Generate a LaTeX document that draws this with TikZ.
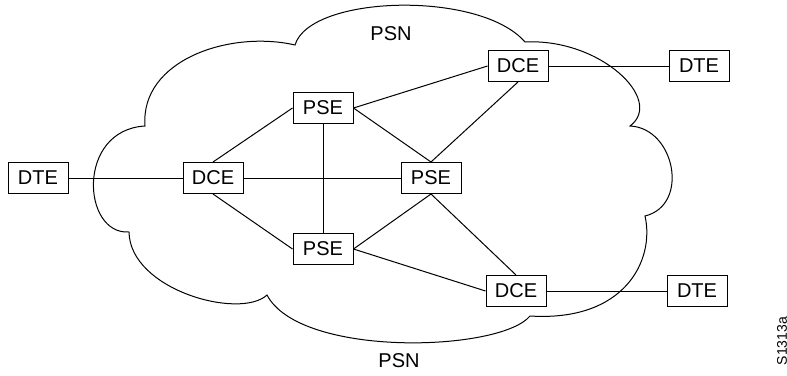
\documentclass[tikz,border=0pt]{standalone}
\usepackage{fontspec}
\setmainfont{Liberation Sans}
\tikzset{
  unit/.style={draw, fill=white, line width=0.5pt, minimum width=30pt, minimum height=15.5pt, inner sep=0pt, font=\fontsize{10}{12}\selectfont},
  link/.style={line width=0.5pt},
  tag/.style={inner sep=0pt, font=\fontsize{10}{12}\selectfont}
}
\begin{document}
\begin{tikzpicture}[x=0.5pt, y=-0.5pt]
\useasboundingbox (0,0) rectangle (787,375);
\begin{scope}
  % cloud
  \draw[link] (145,126) .. controls (140,60) and (230,30) .. (295,45)
    .. controls (310,-5) and (480,-10) .. (525,42)
    .. controls (600,38) and (665,100) .. (630,126)
    .. controls (675,128) and (690,205) .. (645,216)
    .. controls (655,260) and (625,322) .. (530,316)
    .. controls (500,352) and (300,358) .. (267,295)
    .. controls (240,320) and (130,290) .. (129,232)
    .. controls (82,235) and (76,130) .. cycle;
  \node[tag] (psnN) at (391,34) {PSN};
  \node[tag] (psnS) at (399,361) {PSN};
  \node[tag, rotate=90, font=\fontsize{7}{8}\selectfont] (figno) at (782,341) {S1313a};

  \node[unit] (dteW) at (38,178) {DTE};
  \node[unit] (dceW) at (213,178) {DCE};
  \node[unit] (pseN) at (323,108) {PSE};
  \node[unit] (pseE) at (431,178) {PSE};
  \node[unit] (pseS) at (323,249) {PSE};
  \node[unit] (dceNE) at (518,66) {DCE};
  \node[unit] (dteNE) at (699,66) {DTE};
  \node[unit] (dceSE) at (516,291) {DCE};
  \node[unit] (dteSE) at (697,291) {DTE};

  \draw[link] (dteW) -- (dceW);
  \draw[link] (dceW) -- (pseE);
  \draw[link] (dceW.north) -- (pseN.west);
  \draw[link] (dceW.south) -- (pseS.west);
  \draw[link] (pseN) -- (pseS);
  \draw[link] (pseN.east) -- (dceNE.west);
  \draw[link] (pseN.east) -- (pseE.north);
  \draw[link] (pseE.north) -- (dceNE.south);
  \draw[link] (pseS.east) -- (pseE.south);
  \draw[link] (pseS.east) -- (dceSE.west);
  \draw[link] (pseE.south) -- (dceSE.north);
  \draw[link] (dceNE) -- (dteNE);
  \draw[link] (dceSE) -- (dteSE);
\end{scope}
\end{tikzpicture}
\end{document}
